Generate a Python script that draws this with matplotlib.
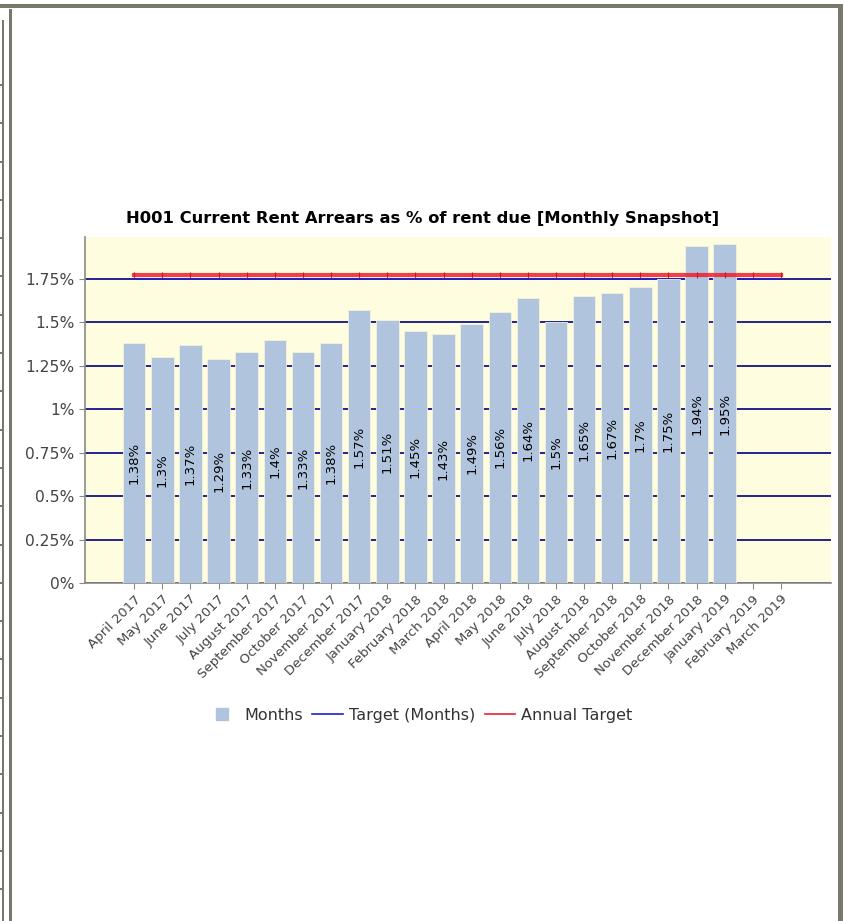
import matplotlib.pyplot as plt
import matplotlib.patches as mpatches
from matplotlib.lines import Line2D

months = [
    "April 2017", "May 2017", "June 2017", "July 2017", "August 2017",
    "September 2017", "October 2017", "November 2017", "December 2017",
    "January 2018", "February 2018", "March 2018", "April 2018", "May 2018",
    "June 2018", "July 2018", "August 2018", "September 2018",
    "October 2018", "November 2018", "December 2018", "January 2019",
    "February 2019", "March 2019",
]
arrears_pct = [
    1.38, 1.3, 1.37, 1.29, 1.33, 1.4, 1.33, 1.38, 1.57, 1.51, 1.45, 1.43,
    1.49, 1.56, 1.64, 1.5, 1.65, 1.67, 1.7, 1.75, 1.94, 1.95,
]
monthly_target = [1.75] * len(months)
annual_target = [1.77] * len(months)
y_ticks = [0, 0.25, 0.5, 0.75, 1, 1.25, 1.5, 1.75]

W, H = 845, 921
fig = plt.figure(figsize=(W / 100, H / 100), dpi=100)
fig.patch.set_facecolor("white")

FRAME = "#78786c"


def box(x0, y0, x1, y1, color=FRAME):
    # pixel box, measured from the top-left corner
    fig.add_artist(mpatches.Rectangle(
        (x0 / W, 1 - y1 / H), (x1 - x0) / W, (y1 - y0) / H,
        transform=fig.transFigure, facecolor=color, edgecolor="none"))


# page frame around the chart panel
box(0, 4, 843, 8)
box(838, 4, 843, H)
box(9, 9, 12, H)
box(2, 20, 4, H)
y = 85.0
while y < H:
    box(0, y - 1, 4, y + 1)
    y += 38.3

ax = fig.add_axes([85 / W, 1 - 583 / H, 746 / W, 346 / H])
ax.set_facecolor("#fffde0")
x = list(range(len(months)))

ax.bar(x[:len(arrears_pct)], arrears_pct, width=0.8, color="#b0c4de",
       edgecolor="#f4f1dc", linewidth=0.6, zorder=3)
for i, v in enumerate(arrears_pct):
    ax.text(i, v / 2, f"{v:g}%", rotation=90, ha="center", va="center",
            fontsize=9.5, color="black", zorder=5)

ax.plot(x, monthly_target, color="#1f1fd0", linewidth=1.2, zorder=2)
ax.plot(x, annual_target, color="#ee2030", linewidth=3.0, alpha=0.85,
        marker="|", markersize=5, markeredgecolor="#c01020",
        markeredgewidth=0.8, zorder=4)

ax.set_xlim(-1.75, len(months) - 1 + 1.78)
ax.set_ylim(0, 1.99)
ax.set_yticks(y_ticks)
ax.set_yticklabels([f"{t:g}%" for t in y_ticks])
ax.yaxis.grid(True, color="#23238c", linewidth=1.4, zorder=1)
ax.set_axisbelow(True)
ax.set_xticks(x)
ax.set_xticklabels(months, rotation=45, ha="right", rotation_mode="anchor")

for side in ("top", "right"):
    ax.spines[side].set_visible(False)
for side in ("left", "bottom"):
    ax.spines[side].set_color("#8a8a8a")
    ax.spines[side].set_linewidth(1.2)
ax.tick_params(axis="y", colors="#8a8a8a", labelcolor="#444444",
               labelsize=11.2, length=4)
ax.tick_params(axis="x", colors="#8a8a8a", labelcolor="#444444",
               labelsize=9.5, length=4, pad=3)

fig.text(0.5, 1 - 218 / H,
         "H001 Current Rent Arrears as % of rent due [Monthly Snapshot]",
         ha="center", va="center", fontsize=11.8, fontweight="bold",
         color="black")

handles = [
    Line2D([], [], marker="s", linestyle="none", markersize=9,
           markerfacecolor="#b0c4de", markeredgecolor="#b0c4de",
           label="Months"),
    Line2D([], [], color="#1f1fd0", linewidth=1.2, label="Target (Months)"),
    Line2D([], [], color="#ee2030", linewidth=1.2, label="Annual Target"),
]
fig.legend(handles=handles, loc="center", ncol=3,
           bbox_to_anchor=(0.497, 1 - 715 / H), frameon=False,
           fontsize=11.5, handlelength=1.9, handletextpad=0.4,
           columnspacing=0.6, labelcolor="#333333")

fig.savefig("out.png", dpi=100, facecolor="white")
